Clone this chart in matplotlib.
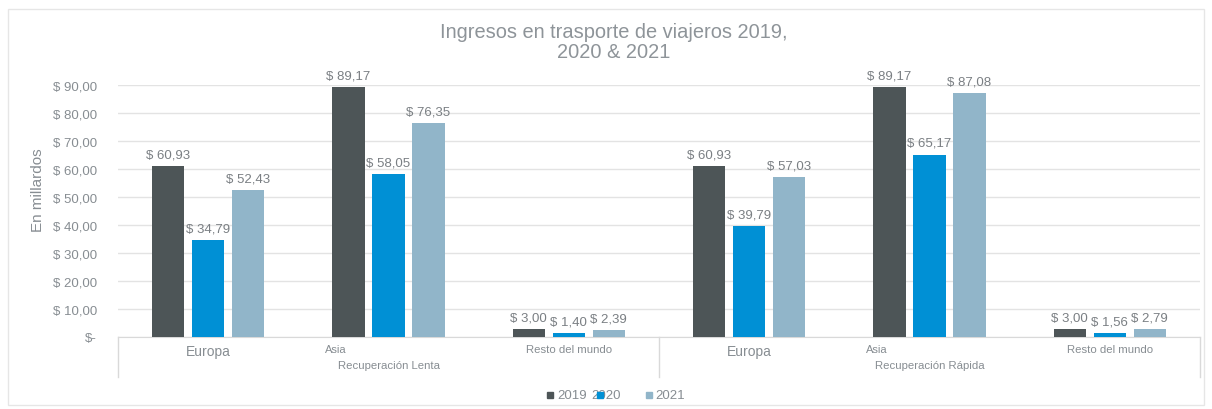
import matplotlib
matplotlib.use("Agg")
import matplotlib.pyplot as plt
from matplotlib.patches import Rectangle
from matplotlib.lines import Line2D
import numpy as np

plt.rcParams['font.family'] = ['Liberation Sans', 'DejaVu Sans']

title = "Ingresos en trasporte de viajeros 2019,\n2020 & 2021"
regions = ["Europa", "Asia", "Resto del mundo", "Europa", "Asia", "Resto del mundo"]
scenarios = ["Recuperación Lenta", "Recuperación Rápida"]
series_names = ["2019", "2020", "2021"]
v2019 = [60.93, 89.17, 3.00, 60.93, 89.17, 3.00]
v2020 = [34.79, 58.05, 1.40, 39.79, 65.17, 1.56]
v2021 = [52.43, 76.35, 2.39, 57.03, 87.08, 2.79]
yticks = [0, 10, 20, 30, 40, 50, 60, 70, 80, 90]
ytick_labels = ["$-", "$ 10,00", "$ 20,00", "$ 30,00", "$ 40,00", "$ 50,00",
                "$ 60,00", "$ 70,00", "$ 80,00", "$ 90,00"]
ylabel = "En millardos"

colors = ["#4D5557", "#0090D5", "#91B5C9"]
txt = "#878D92"
lbl = "#7A7F83"
grid = "#E3E3E3"

def fmt(v):
    return "$ " + f"{v:.2f}".replace(".", ",")

W, H = 1212, 410
fig = plt.figure(figsize=(W/100, H/100), dpi=100)
fig.patches.append(Rectangle((8/W, 1-406/H), (1204-8)/W, (406-10)/H,
                             transform=fig.transFigure, fill=False,
                             edgecolor="#E6E6E6", lw=1))

L, R, T, B = 118, 1200, 86, 338
ax = fig.add_axes([L/W, 1-B/H, (R-L)/W, (B-T)/H])
ax.set_xlim(-0.5, 5.5)
ax.set_ylim(0, 90)
for s in ["top", "right", "left"]:
    ax.spines[s].set_visible(False)
ax.spines["bottom"].set_color("#D9D9D9")
ax.set_yticks(yticks)
ax.set_yticklabels(ytick_labels, fontsize=9.5, color=txt)
ax.tick_params(axis="y", length=0, pad=15)
ax.set_xticks([])
ax.yaxis.grid(True, color=grid, lw=1)
ax.set_axisbelow(True)

x = np.arange(len(regions))
off = 0.222
width = 0.178
for i, (vals, c) in enumerate(zip([v2019, v2020, v2021], colors)):
    xs = x + (i - 1) * off
    ax.bar(xs, vals, width=width, color=c, zorder=3)
    for xi, v in zip(xs, vals):
        ax.annotate(fmt(v), (xi, v), xytext=(0, 4), textcoords="offset points",
                    ha="center", va="bottom", fontsize=9.5, color=lbl)

trans = ax.get_xaxis_transform()
ph = B - T
for xi, name in zip(x, regions):
    if name == "Europa":
        ax.text(xi, -14/ph, name, transform=trans, ha="center",
                va="center", fontsize=10, color=txt)
    elif name == "Asia":
        ax.text(xi - 0.29, -12/ph, name, transform=trans, ha="center",
                va="center", fontsize=8, color=txt)
    else:
        ax.text(xi, -12/ph, name, transform=trans, ha="center",
                va="center", fontsize=8.2, color=txt)
for k, sc in enumerate(scenarios):
    ax.text(1 + 3*k, -28/ph, sc, transform=trans, ha="center", va="center",
            fontsize=8.2, color=txt)
for xv in [-0.5, 2.5, 5.5]:
    ax.add_line(Line2D([xv, xv], [0, -40/ph], transform=trans, color="#D9D9D9",
                       lw=1, clip_on=False))

fig.text(38/W, 1-190/H, ylabel, rotation=90, ha="center", va="center",
         fontsize=11, color=txt)

fig.text(614/W, 1-32/H, title.split("\n")[0], ha="center", va="center",
         fontsize=14.4, color="#8E9499")
fig.text(614/W, 1-52/H, title.split("\n")[1], ha="center", va="center",
         fontsize=14.4, color="#8E9499")

leg_y = 1 - 396/H
sq = 6
leg = [(547, 557), (597, 591), (646, 655)]
for (sx, tx), nm in zip(leg, series_names):
    fig.text(tx/W, leg_y, nm, ha="left", va="center", fontsize=9.5, color=txt)
for (sx, tx), c in zip(leg, colors):
    fig.patches.append(Rectangle((sx/W, 1-399/H), sq/W, sq/H,
                                 transform=fig.transFigure, color=c, zorder=5))

fig.savefig("out.png", dpi=100)
